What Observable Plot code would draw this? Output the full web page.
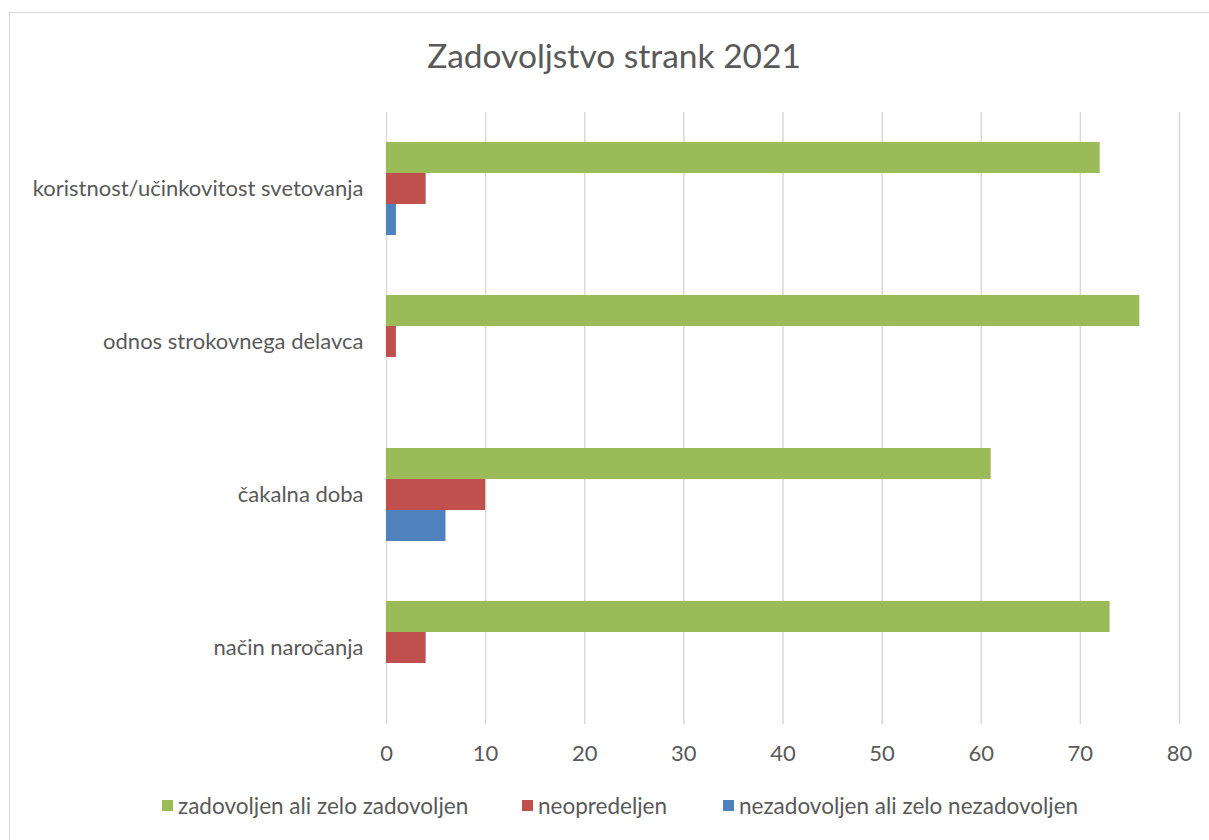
<!DOCTYPE html>
<html>
<head>
<meta charset="utf-8">
<script src="https://cdn.jsdelivr.net/npm/d3@7"></script>
<script src="https://cdn.jsdelivr.net/npm/@observablehq/plot@0.6"></script>
<style>
  html, body { margin: 0; padding: 0; background: #fff; overflow: hidden; }
  #wrap { position: relative; width: 1209px; height: 840px; overflow: hidden; font-family: Lato, "Open Sans", sans-serif; }
  #frame { position: absolute; left: 9px; top: 12px; width: 1300px; height: 900px; border: 1.5px solid #d9d9d9; box-sizing: border-box; }
  #title { position: absolute; left: 0; top: 35px; width: 1228px; text-align: center; font-size: 33.5px; color: #595959; }
  #chart { position: absolute; left: 0; top: 95px; }
  #legend { position: absolute; top: 792px; left: 0; height: 26px; }
  .item { position: absolute; top: 0; display: flex; align-items: center; font-size: 22.5px; color: #595959; white-space: nowrap; }
  .sw { width: 11px; height: 11px; margin-right: 5px; }
</style>
</head>
<body>
<div id="wrap">
  <div id="frame"></div>
  <div id="title">Zadovoljstvo strank 2021</div>
  <div id="chart"></div>
  <div id="legend"></div>
</div>
<script>
const categories = ["koristnost/učinkovitost svetovanja", "odnos strokovnega delavca", "čakalna doba", "način naročanja"];
const series = ["zadovoljen ali zelo zadovoljen", "neopredeljen", "nezadovoljen ali zelo nezadovoljen"];
const zadovoljen = [72, 76, 61, 73];
const neopredeljen = [4, 1, 10, 4];
const nezadovoljen = [1, 0, 6, 0];
const colors = ["#9BBB59", "#C0504D", "#4F81BD"];
const xTicks = [0, 10, 20, 30, 40, 50, 60, 70, 80];

const valuesBySeries = [zadovoljen, neopredeljen, nezadovoljen];
const data = [];
categories.forEach((c, i) => {
  series.forEach((s, j) => data.push({category: c, series: s, value: valuesBySeries[j][i]}));
});

const chart = Plot.plot({
  width: 1209,
  height: 685,
  marginTop: 16,
  marginBottom: 56,
  marginLeft: 386,
  marginRight: 30,
  style: {fontFamily: "Lato, 'Open Sans', sans-serif", fontSize: "22px", color: "#595959", background: "transparent"},
  x: {domain: [0, 80], ticks: xTicks, tickSize: 0, tickPadding: 21, label: null},
  y: {domain: series, paddingInner: 0, paddingOuter: 0.91, axis: null},
  fy: {domain: categories, padding: 0, label: null, tickSize: 0, tickPadding: 23},
  color: {domain: series, range: colors},
  marks: [
    Plot.ruleX(xTicks, {stroke: "#d9d9d9", strokeWidth: 1.5}),
    Plot.barX(data, {fy: "category", y: "series", x: "value", fill: "series"})
  ]
});
document.getElementById("chart").appendChild(chart);

const legend = document.getElementById("legend");
const legendX = [162, 522, 723];
series.forEach((s, j) => {
  const it = document.createElement("div");
  it.className = "item";
  it.style.left = legendX[j] + "px";
  const sw = document.createElement("span");
  sw.className = "sw";
  sw.style.background = colors[j];
  const tx = document.createElement("span");
  tx.textContent = s;
  it.appendChild(sw);
  it.appendChild(tx);
  legend.appendChild(it);
});
</script>
</body>
</html>
